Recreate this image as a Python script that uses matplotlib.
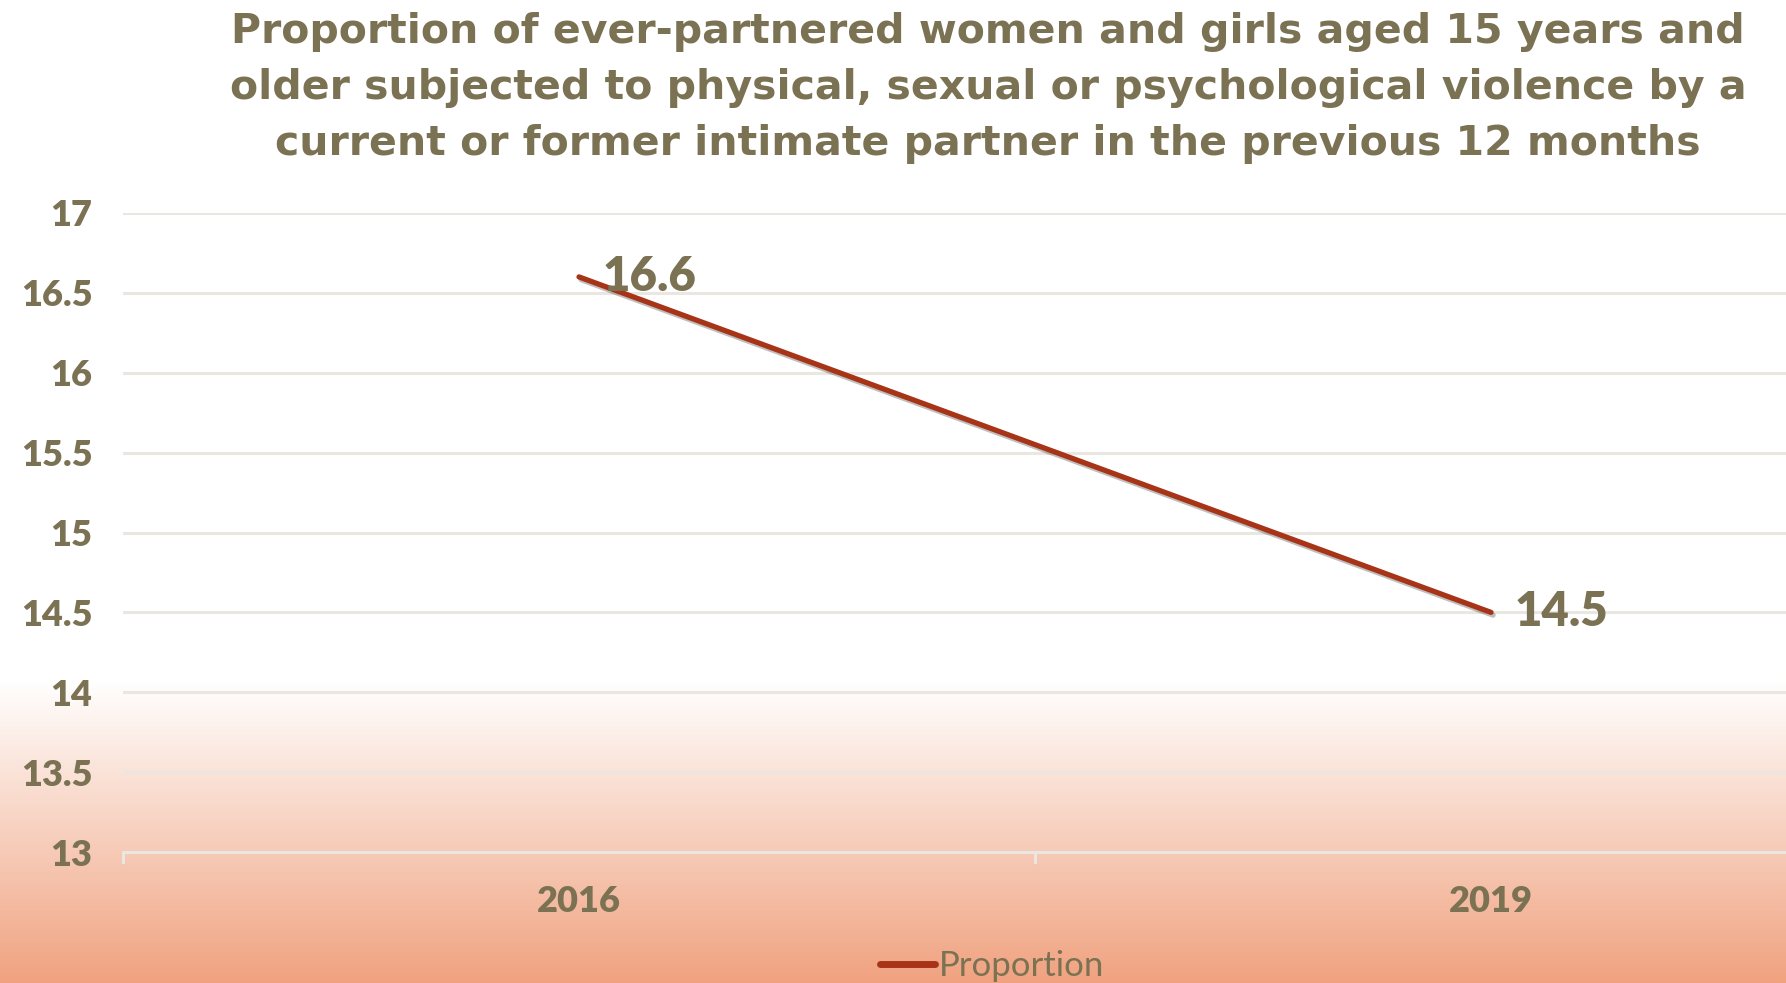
import numpy as np
import matplotlib
matplotlib.use('Agg')
import matplotlib.pyplot as plt
import matplotlib.patheffects as pe
from matplotlib.colors import LinearSegmentedColormap

# data
years = ['2016', '2019']
proportion = [16.6, 14.5]
yticks = [13, 13.5, 14, 14.5, 15, 15.5, 16, 16.5, 17]
title = ('Proportion of ever-partnered women and girls aged 15 years and\n'
         'older subjected to physical, sexual or psychological violence by a\n'
         'current or former intimate partner in the previous 12 months')

txt_color = '#7A7253'
line_color = '#A83418'
grid_color = '#E9E7E0'

W, H = 1786, 983
fig = plt.figure(figsize=(W / 100, H / 100), dpi=100)

# background gradient, white on top, peach at the bottom
bg = fig.add_axes([0, 0, 1, 1], zorder=0)
bg.axis('off')
grad = np.ones((H, 1))
y = np.arange(H)
start = 680
t = np.clip((y - start) / (H - start), 0, 1)
grad[:, 0] = t
cmap = LinearSegmentedColormap.from_list('peach', ['#FFFFFF', '#F0A27F'])
bg.imshow(grad, aspect='auto', cmap=cmap, extent=[0, 1, 0, 1], vmin=0, vmax=1)

# plot area - right side runs past the figure edge like the original
left = 123 / W
right = 1947 / W
bottom = 1 - 852 / H
top = 1 - 213 / H
ax = fig.add_axes([left, bottom, right - left, top - bottom], zorder=1)
ax.patch.set_alpha(0)

x = np.arange(len(years)) + 0.5
ax.plot(x, proportion, color=line_color, lw=3.8, solid_capstyle='round',
        label='Proportion', zorder=3,
        path_effects=[pe.SimpleLineShadow(offset=(1.5, -2), alpha=0.25),
                      pe.Normal()])

for xi, v in zip(x, proportion):
    ax.annotate(f'{v}', (xi, v), xytext=(17, 0), textcoords='offset points',
                ha='left', va='center', fontsize=34, fontweight='heavy',
                color=txt_color, family='Lato', zorder=4)

ax.set_xlim(0, 2)
ax.set_ylim(13, 17)
ax.set_yticks(yticks)
ax.set_yticklabels([f'{v:g}' for v in yticks])
ax.set_xticks(x)
ax.set_xticklabels(years)
ax.yaxis.grid(True, color=grid_color, lw=2.2)
ax.set_axisbelow(True)
for s in ['top', 'right', 'left']:
    ax.spines[s].set_visible(False)
ax.spines['bottom'].set_color(grid_color)
ax.spines['bottom'].set_linewidth(2.2)
ax.tick_params(axis='y', length=0, pad=22, labelsize=26, labelcolor=txt_color)
ax.tick_params(axis='x', length=0, pad=24, labelsize=26, labelcolor=txt_color)
for lab in ax.get_xticklabels() + ax.get_yticklabels():
    lab.set_fontweight('heavy')
    lab.set_family('Lato')

# small category separators on the bottom axis
for xb in [0, 1]:
    ax.plot([xb, xb], [13, 12.94], color=grid_color, lw=2.2, clip_on=False)

fig.text(988 / W, 1 - 88 / H, title, ha='center', va='center', fontsize=29.5,
         fontweight='bold', color=txt_color, family='DejaVu Sans',
         linespacing=1.5)

leg = fig.legend(loc='center', bbox_to_anchor=(992 / W, 1 - 966 / H),
                 frameon=False, handlelength=1.6, handletextpad=0.1,
                 prop={'family': 'Lato', 'size': 25})
for t_ in leg.get_texts():
    t_.set_color(txt_color)
for h in leg.get_lines():
    h.set_linewidth(5)
    h.set_path_effects([])

fig.savefig('out.png', dpi=100)
